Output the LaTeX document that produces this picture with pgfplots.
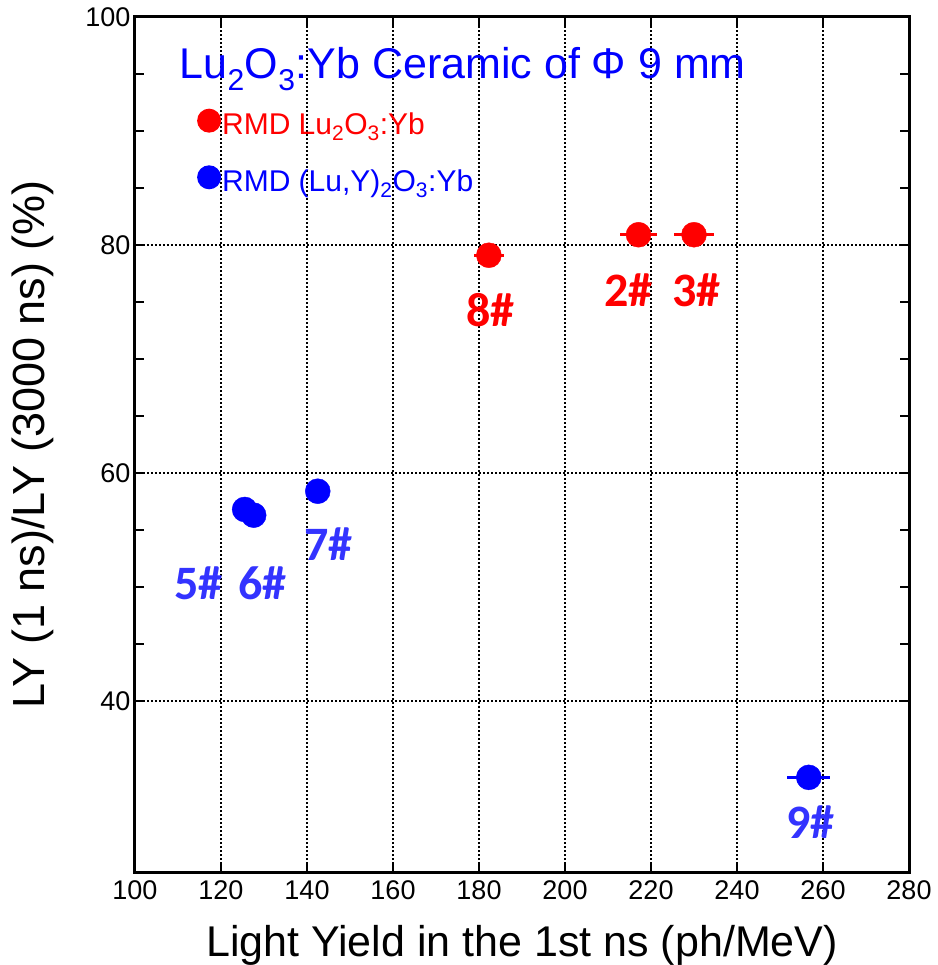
\documentclass[border=0pt]{standalone}
\usepackage{pgfplots}
\pgfplotsset{compat=1.18}
\usepackage{fontspec}
\setmainfont{Liberation Sans}
\newfontfamily\calfont{Carlito}
\definecolor{pred}{HTML}{FF0000}
\definecolor{pblue}{HTML}{0000FF}
\definecolor{lblue}{HTML}{3333FF}
\newcommand{\tl}{\fontsize{27}{27}\selectfont}

\begin{document}
\begin{tikzpicture}
\begin{axis}[
    scale only axis,
    width=774pt, height=855pt,
    xmin=100, xmax=280, ymin=25, ymax=100,
    xtick={100,120,...,280},
    xticklabels={\tl 100,\tl 120,\tl 140,\tl 160,\tl 180,\tl 200,\tl 220,\tl 240,\tl 260,\tl 280},
    ytick={40,60,80,100},
    yticklabels={\tl 40,\tl 60,\tl 80,\tl 100},
    minor y tick num=3,
    tick pos=both,
    tick align=inside,
    major tick length=10pt, minor tick length=9pt,
    tick style={black, line width=1.6pt},
    axis line style={line width=3pt},
    grid=major,
    grid style={black, line width=1.8pt, dash pattern=on 1.8pt off 2.2pt},
    xticklabel style={yshift=-5pt},
    yticklabel style={xshift=-1pt},
    xlabel={Light Yield in the 1st ns (ph/MeV)},
    ylabel={LY (1 ns)/LY (3000 ns) (\%)},
    xlabel style={font=\fontsize{43}{43}\selectfont, at={(axis description cs:0.5,0)}, anchor=base, yshift=-84pt},
    ylabel style={font=\fontsize{45}{45}\selectfont, at={(axis description cs:-0.132,0.5)}, anchor=center},
    legend style={draw=none, fill=none, at={(rel axis cs:0.08,0.893)}, anchor=north west,
        font=\fontsize{30}{30}\selectfont, row sep=28pt, inner sep=0pt,
        nodes={inner sep=1pt}},
    legend cell align=left,
    legend image code/.code={\fill[#1, draw=none] (6pt,4pt) circle[radius=12pt];},
    error bars/error bar style={line width=2.5pt},
]
% red: RMD Lu2O3:Yb
\addplot[only marks, color=pred, mark=*, mark size=12.5pt, mark options={draw=none, fill=pred},
    error bars/.cd, x dir=both, x explicit, error mark=none]
    coordinates {
    (182.3,79.1) +- (3.5,0)
    (217.1,80.9) +- (4.3,0)
    (230.0,80.9) +- (4.7,0)
};
\addlegendentry{\textcolor{pred}{RMD Lu\textsubscript{2}O\textsubscript{3}:Yb}}
% blue: RMD (Lu,Y)2O3:Yb
\addplot[only marks, color=pblue, mark=*, mark size=12.5pt, mark options={draw=none, fill=pblue},
    error bars/.cd, x dir=both, x explicit, error mark=none]
    coordinates {
    (125.5,56.8) +- (1.5,0)
    (127.6,56.3) +- (1.5,0)
    (142.5,58.4) +- (1.5,0)
    (256.7,33.3) +- (5.0,0)
};
\addlegendentry{\textcolor{pblue}{RMD (Lu,Y)\textsubscript{2}O\textsubscript{3}:Yb}}

\node[anchor=base west, text=pblue, font=\fontsize{43}{43}\selectfont, inner sep=0pt]
    at (axis cs:110.4,94.6) {Lu\textsubscript{2}O\textsubscript{3}:Yb Ceramic of Φ 9 mm};

\begin{scope}[every node/.style={font=\fontsize{48}{48}\calfont\bfseries, inner sep=0pt}]
\node[text=pred] at (axis cs:182.7,74.3) {8\#};
\node[text=pred] at (axis cs:214.7,76.0) {2\#};
\node[text=pred] at (axis cs:230.5,76.0) {3\#};
\node[text=lblue] at (axis cs:145.0,53.8) {7\#};
\node[text=lblue] at (axis cs:114.8,50.3) {5\#};
\node[text=lblue] at (axis cs:129.7,50.3) {6\#};
\node[text=lblue] at (axis cs:257.1,29.4) {9\#};
\end{scope}
\end{axis}
\pgfresetboundingbox
\path (-135pt,-93pt) rectangle (802pt,872pt);
\end{tikzpicture}
\end{document}
